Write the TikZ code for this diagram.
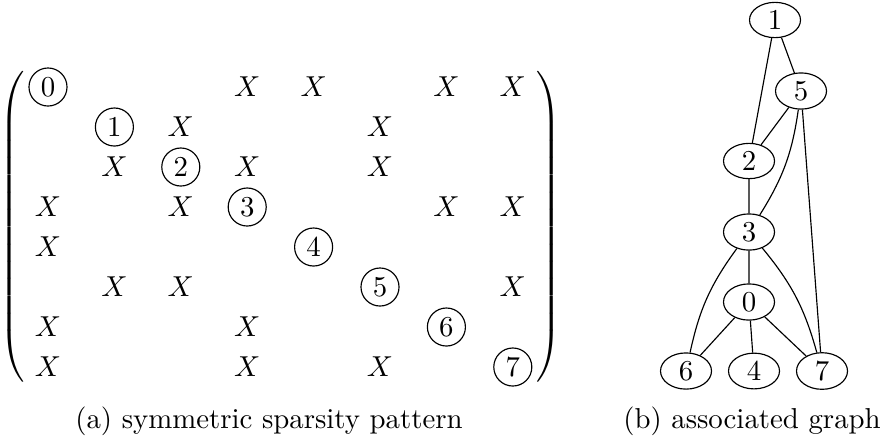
\documentclass[tikz,border=0pt]{standalone}
\usepackage{amsmath,amssymb}
\usepackage{tikz}
\usetikzlibrary{positioning,fit,matrix,shapes.geometric}
\tikzset{
  diag/.style={draw, circle, inner sep=0.6pt, minimum size=13.2pt},
  ent/.style={inner sep=1pt},
  vert/.style={draw, ellipse, inner sep=1pt, minimum width=17.7pt, minimum height=11.8pt},
  arista/.style={thin},
  leyenda/.style={align=center},
}

\begin{document}
\begin{tikzpicture}[x=0.347pt,y=-0.347pt]
  \useasboundingbox (0,0) rectangle (886,443);
  % matrix pattern
  \foreach \i in {0,...,7}
    \node[diag] (d\i) at ({48+66.4*\i},{87+40*\i}) {$\i$};
  \foreach \r/\c in {0/3,0/4,0/6,0/7,1/2,1/5,2/1,2/3,2/5,3/0,3/2,3/6,3/7,4/0,5/1,5/2,5/7,6/0,6/3,7/0,7/3,7/5}
    \node[ent] (x\r\c) at ({48+66.4*\c},{87+40*\r}) {$X$};
  \node[fit=(d0)(d7), inner sep=0pt, left delimiter=(, right delimiter=)] (mat) {};
  \node[leyenda] (capa) at (269,421) {(a) symmetric sparsity pattern};
  % graph
  \node[vert] (v1) at (775,20) {1};
  \node[vert] (v5) at (801,91) {5};
  \node[vert] (v2) at (749,161) {2};
  \node[vert] (v3) at (749,232) {3};
  \node[vert] (v0) at (749,302) {0};
  \node[vert] (v6) at (686,371) {6};
  \node[vert] (v4) at (754,371) {4};
  \node[vert] (v7) at (822,371) {7};
  \draw[arista] (v1)--(v2) (v1)--(v5) (v5)--(v2) (v5)--(v7) (v2)--(v3) (v3)--(v0) (v0)--(v6) (v0)--(v4) (v0)--(v7);
  \draw[arista] (v5) to[bend left=12] (v3);
  \draw[arista] (v3) to[bend right=12] (v6);
  \draw[arista] (v3) to[bend left=12] (v7);
  \node[leyenda] (capb) at (752,421) {(b) associated graph};
\end{tikzpicture}
\end{document}
